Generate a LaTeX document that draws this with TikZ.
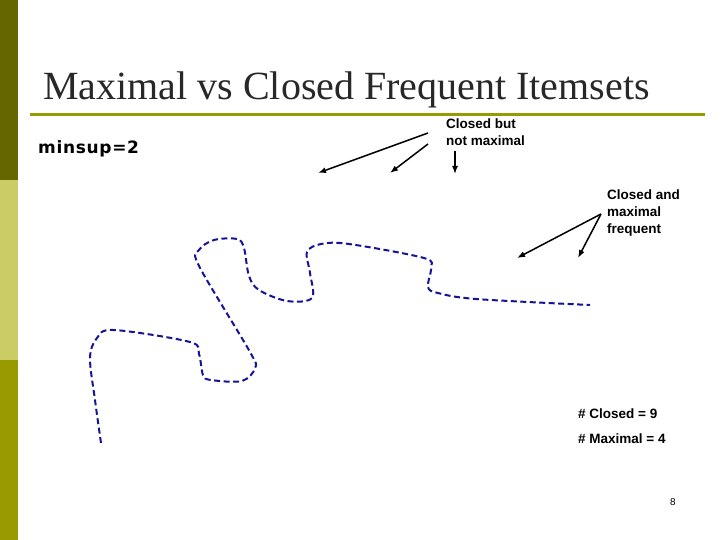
\documentclass[tikz,border=0pt]{standalone}
\usepackage{fontspec}
\usetikzlibrary{arrows.meta}
\setmainfont{Liberation Serif}
\setsansfont{Liberation Sans}
\newfontfamily\dvs[LetterSpace=4]{DejaVu Sans}
\definecolor{barA}{RGB}{102,102,0}
\definecolor{barB}{RGB}{204,204,102}
\definecolor{barC}{RGB}{153,153,0}
\definecolor{curvec}{RGB}{20,20,150}
\definecolor{titlec}{RGB}{40,40,40}
\begin{document}
\begin{tikzpicture}[x=1pt,y=-1pt,
  lbl/.style={font=\sffamily\bfseries\fontsize{13.5}{17}\selectfont, align=left, inner sep=0pt},
  arr/.style={-{Latex[length=8pt,width=6pt]}, line width=1.5pt},
  curve/.style={draw=curvec, line width=2pt, dash pattern=on 6pt off 3.5pt}]
\useasboundingbox (0,0) rectangle (720,540);
\fill[white] (0,0) rectangle (720,540);
\fill[barA] (0,0) rectangle (18,180);
\fill[barB] (0,180) rectangle (18,360);
\fill[barC] (0,360) rectangle (18,540);
\draw[barC, line width=3pt] (30,115) -- (705,115);
\node[anchor=base west, inner sep=0pt, font=\fontsize{40}{44}\selectfont, text=titlec] (title) at (43,100) {Maximal vs Closed Frequent Itemsets};
\node[anchor=base west, inner sep=0pt, font=\dvs\bfseries\fontsize{17}{20}\selectfont] (ms) at (38,154) {minsup=2};
\node[lbl, anchor=north west] (cb) at (446,119) {Closed but\\not maximal};
\node[lbl, anchor=north west] (cm) at (607,190) {Closed and\\maximal\\frequent};
\node[lbl, anchor=base west] (nc) at (578,418) {\# Closed = 9};
\node[lbl, anchor=base west] (nm) at (578,443) {\# Maximal = 4};
\node[inner sep=0pt, font=\sffamily\fontsize{10}{12}\selectfont] (pg) at (673,502) {8};
\coordinate (a1) at (318,173); \coordinate (a2) at (390,173); \coordinate (a3) at (455,174);
\coordinate (b1) at (517,258); \coordinate (b2) at (578,258);
\coordinate (s1) at (428,133); \coordinate (s2) at (428,144); \coordinate (s3) at (455,151);
\coordinate (t) at (601,214);
\draw[arr] (s1) -- (a1);
\draw[arr] (s2) -- (a2);
\draw[arr] (s3) -- (a3);
\draw[arr] (t) -- (b1);
\draw[arr] (t) -- (b2);
\draw[curve] plot[smooth, tension=0.55] coordinates {
 (101,443) (95,400) (90,358) (97,338) (114,330) (190,342) (199,354) (203,375)
 (211,380) (242,381) (255,368) (250,352) (199,266) (199,250) (214,240) (237,239)
 (244,248) (249,276) (259,290) (287,301) (312,298) (310,273) (307,252) (321,244)
 (349,244) (424,258) (431,268) (428,287) (438,293) (476,299) (590,305)};
\end{tikzpicture}
\end{document}
